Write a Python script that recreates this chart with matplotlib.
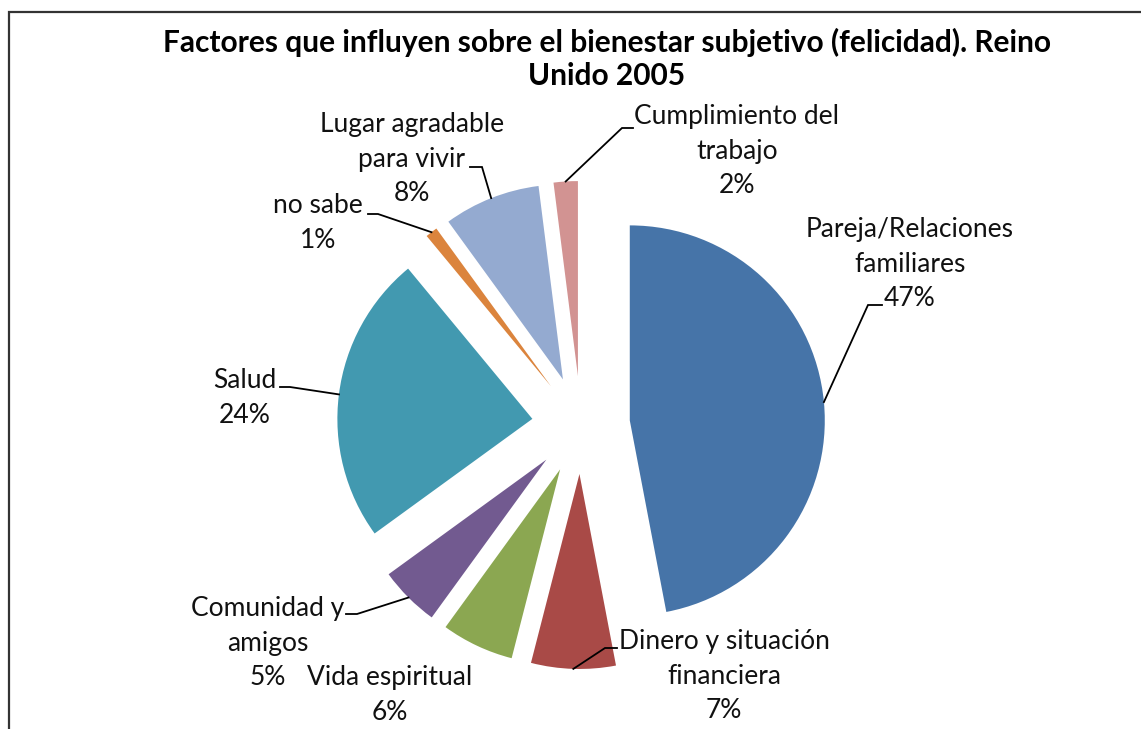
import numpy as np
import matplotlib
matplotlib.use("Agg")
import matplotlib.pyplot as plt

plt.rcParams["font.family"] = ["Lato", "DejaVu Sans"]

W, H = 1141, 729

# ===== datos =====
categorias = ["Pareja/Relaciones\nfamiliares", "Dinero y situación\nfinanciera",
              "Vida espiritual", "Comunidad y\namigos", "Salud", "no sabe",
              "Lugar agradable\npara vivir", "Cumplimiento del\ntrabajo"]
valores = [47, 7, 6, 5, 24, 1, 8, 2]
colores = ["#4674A8", "#A94A47", "#8BA751", "#725A90",
           "#4299B0", "#DB843D", "#94AAD0", "#D29392"]

# posiciones de etiquetas (pixeles de imagen: x, y desde arriba)
pos_etiqueta = [(910, 264), (724, 676), (390, 695), (268, 643),
                (245, 398), (318, 223), (412, 159), (737, 151)]
# codo y final de la línea guía (None = sin línea)
guia = [((868, 305), (882, 305)), ((605, 648), (617, 648)), None,
        ((357, 614), (346, 614)), ((290, 387), (280, 387)),
        ((378, 214), (368, 214)), ((482, 167), (470, 167)),
        ((622, 128), (633, 128))]
INTERLINEA = 34.5


def iy(y):
    return H - y


fig = plt.figure(figsize=(W / 100, H / 100), dpi=100)
ax = fig.add_axes([0, 0, 1, 1])

# explode en unidades de datos (pixeles): ~25% del radio
wedges, _ = ax.pie(valores, colors=colores, startangle=90, counterclock=False,
                   radius=195, center=(581, iy(425)), explode=[49] * len(valores),
                   wedgeprops=dict(linewidth=0))

for w, cat, v, (lx, ly), g in zip(wedges, categorias, valores, pos_etiqueta, guia):
    lineas = cat.split("\n") + [f"{v}%"]
    y_ini = ly - INTERLINEA * (len(lineas) - 1) / 2
    for i, t in enumerate(lineas):
        ax.text(lx, iy(y_ini + i * INTERLINEA), t, ha="center", va="center",
                fontsize=19, color="#111111")
    if g is None:
        continue
    ang = np.deg2rad((w.theta1 + w.theta2) / 2)
    x0 = w.center[0] + w.r * np.cos(ang)
    y0 = w.center[1] + w.r * np.sin(ang)
    (ex, ey), (fx, fy) = g
    ax.plot([x0, ex, fx], [y0, iy(ey), iy(fy)], color="black", lw=1.3,
            solid_joinstyle="miter")

ax.text(607, iy(42), "Factores que influyen sobre el bienestar subjetivo (felicidad). Reino",
        ha="center", va="center", fontsize=21.5, fontweight="bold")
ax.text(607, iy(76), "Unido 2005",
        ha="center", va="center", fontsize=21.5, fontweight="bold")

# marco del área del gráfico
ax.plot([9, 9, W], [0, iy(12), iy(12)], color="#333333", lw=1.6,
        solid_joinstyle="miter")

ax.set_xlim(0, W)
ax.set_ylim(0, H)
ax.set_aspect("equal")
ax.axis("off")

fig.savefig("out.png", dpi=100)
